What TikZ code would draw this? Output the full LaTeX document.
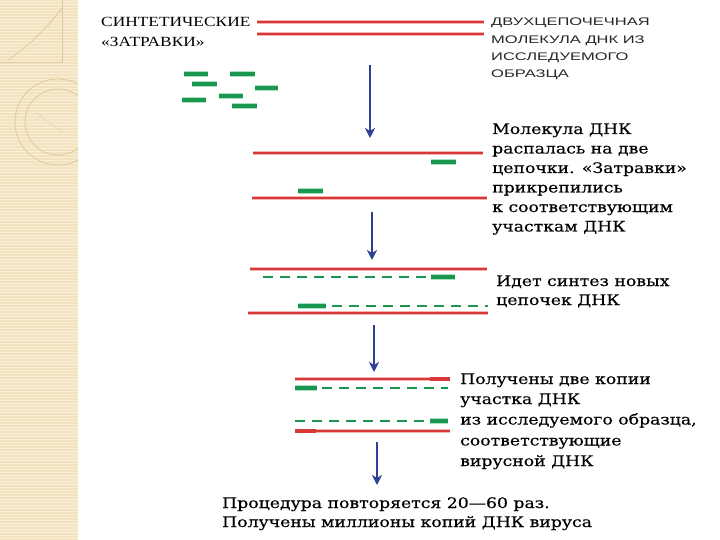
\documentclass[tikz,border=0pt]{standalone}
\usepackage{fontspec}
\setmainfont{DejaVu Serif}
\newfontfamily\titlefont[FakeStretch=1.24]{Liberation Serif}
\newfontfamily\capsfont[FakeStretch=1.5]{Liberation Sans}
\newfontfamily\bodyfont[FakeStretch=1.19,FakeBold=0.4]{DejaVu Serif}
\usetikzlibrary{arrows.meta}
\definecolor{dnared}{RGB}{215,55,55}
\definecolor{dnahalo}{RGB}{245,180,180}
\definecolor{primer}{RGB}{25,150,80}
\definecolor{primerhalo}{RGB}{170,225,190}
\definecolor{arrowblue}{RGB}{45,65,150}
\definecolor{beige}{RGB}{241,226,192}
\definecolor{beigeline}{RGB}{249,238,214}
\definecolor{beigedeco}{RGB}{224,202,155}
\tikzset{
  strand/.style={draw=dnared, line width=2pt, preaction={draw=dnahalo, line width=3.6pt}},
  strandend/.style={draw=dnared, line width=4.5pt},
  primerbar/.style={draw=primer, line width=4.5pt, preaction={draw=primerhalo, line width=6pt}},
  newstrand/.style={draw=primer, line width=2.6pt, dash pattern=on 10pt off 7pt},
  steparrow/.style={draw=arrowblue, line width=2pt, -{Stealth[length=10pt,width=10pt,inset=3pt]}},
  body/.style={font=\bodyfont\fontsize{14.5}{16}\selectfont, anchor=base west, inner sep=0pt, text=black},
  titletxt/.style={font=\titlefont\fontsize{14}{16}\selectfont, anchor=base west, inner sep=0pt},
  capstxt/.style={font=\capsfont\fontsize{11}{13}\selectfont, anchor=base west, inner sep=0pt, text=black!85},
}
\begin{document}
\begin{tikzpicture}[x=1pt,y=-1pt]
\useasboundingbox (0,0) rectangle (720,540);
\fill[white] (0,0) rectangle (720,540);
% decorative left strip
\fill[beige] (0,0) rectangle (78,540);
\foreach \yy in {1.5,4.5,...,540} \draw[beigeline, line width=0.8pt] (0,\yy) -- (78,\yy);
\draw[beigedeco, line width=0.8pt] (62,0) -- (62,62) -- (0,62);
\draw[beigedeco, line width=0.8pt] (62,8) .. controls (45,30) and (30,45) .. (8,60);
\begin{scope}
\clip (0,0) rectangle (78,540);
\draw[beigedeco, line width=0.8pt] (58,122) circle (43);
\draw[beigedeco, line width=0.8pt] (58,122) circle (33);
\draw[beigedeco!70, line width=0.8pt] (33,110) -- (63,133);
\end{scope}

% step 1
\node[titletxt] (t1a) at (101,27) {СИНТЕТИЧЕСКИЕ};
\node[titletxt] (t1b) at (101,47) {«ЗАТРАВКИ»};
\draw[strand] (257,22) -- (484,22);
\draw[strand] (257,34) -- (484,34);
\node[capstxt] (c1) at (491,26) {ДВУХЦЕПОЧЕЧНАЯ};
\node[capstxt] (c2) at (491,44) {МОЛЕКУЛА ДНК ИЗ};
\node[capstxt] (c3) at (491,61) {ИССЛЕДУЕМОГО};
\node[capstxt] (c4) at (491,78) {ОБРАЗЦА};
\foreach \xa/\xb/\yy in {184/208/74, 230/255/74, 192/217/84, 255/278/88, 182/206/100, 219/243/96, 232/257/106}
  \draw[primerbar] (\xa,\yy) -- (\xb,\yy);

\coordinate (a1s) at (370,65);
\coordinate (a1e) at (370,138);
\draw[steparrow] (a1s) -- (a1e);

% step 2
\draw[strand] (253,153) -- (483,153);
\draw[strand] (252,198) -- (487,198);
\draw[primerbar] (431,162) -- (456,162);
\draw[primerbar] (298,191) -- (323,191);
\node[body] (s2a) at (492,134) {Молекула ДНК};
\node[body] (s2b) at (492,153.5) {распалась на две};
\node[body] (s2c) at (492,173) {цепочки. «Затравки»};
\node[body] (s2d) at (492,192.5) {прикрепились};
\node[body] (s2e) at (492,212) {к соответствующим};
\node[body] (s2f) at (492,231.5) {участкам ДНК};

\coordinate (a2s) at (372,212);
\coordinate (a2e) at (372,260);
\draw[steparrow] (a2s) -- (a2e);

% step 3
\draw[strand] (250,269) -- (487,269);
\draw[newstrand] (263,277) -- (432,277);
\draw[primerbar] (431,277) -- (455,277);
\draw[primerbar] (298,306) -- (326,306);
\draw[newstrand] (332,306) -- (488,306);
\draw[strand] (248,313) -- (488,313);
\node[body] (s3a) at (496,286) {Идет синтез новых};
\node[body] (s3b) at (496,305) {цепочек ДНК};

\coordinate (a3s) at (374,325);
\coordinate (a3e) at (374,372);
\draw[steparrow] (a3s) -- (a3e);

% step 4
\draw[strand] (295,379) -- (432,379);
\draw[strandend] (430,379) -- (450,379);
\draw[primerbar] (295,388) -- (317,388);
\draw[newstrand] (322,388) -- (448,388);
\draw[newstrand] (295,421) -- (430,421);
\draw[primerbar] (430,421) -- (448,421);
\draw[strandend] (295,431) -- (318,431);
\draw[strand] (316,431) -- (450,431);
\node[body] (s4a) at (460,384) {Получены две копии};
\node[body] (s4b) at (460,404) {участка ДНК};
\node[body] (s4c) at (460,424.5) {из исследуемого образца,};
\node[body] (s4d) at (460,445.5) {соответствующие};
\node[body] (s4e) at (460,466) {вирусной ДНК};

\coordinate (a4s) at (377,442);
\coordinate (a4e) at (377,485);
\draw[steparrow] (a4s) -- (a4e);

% final
\node[body] (f1) at (222,508) {Процедура повторяется 20—60 раз.};
\node[body] (f2) at (222,527) {Получены миллионы копий ДНК вируса};
\end{tikzpicture}
\end{document}
